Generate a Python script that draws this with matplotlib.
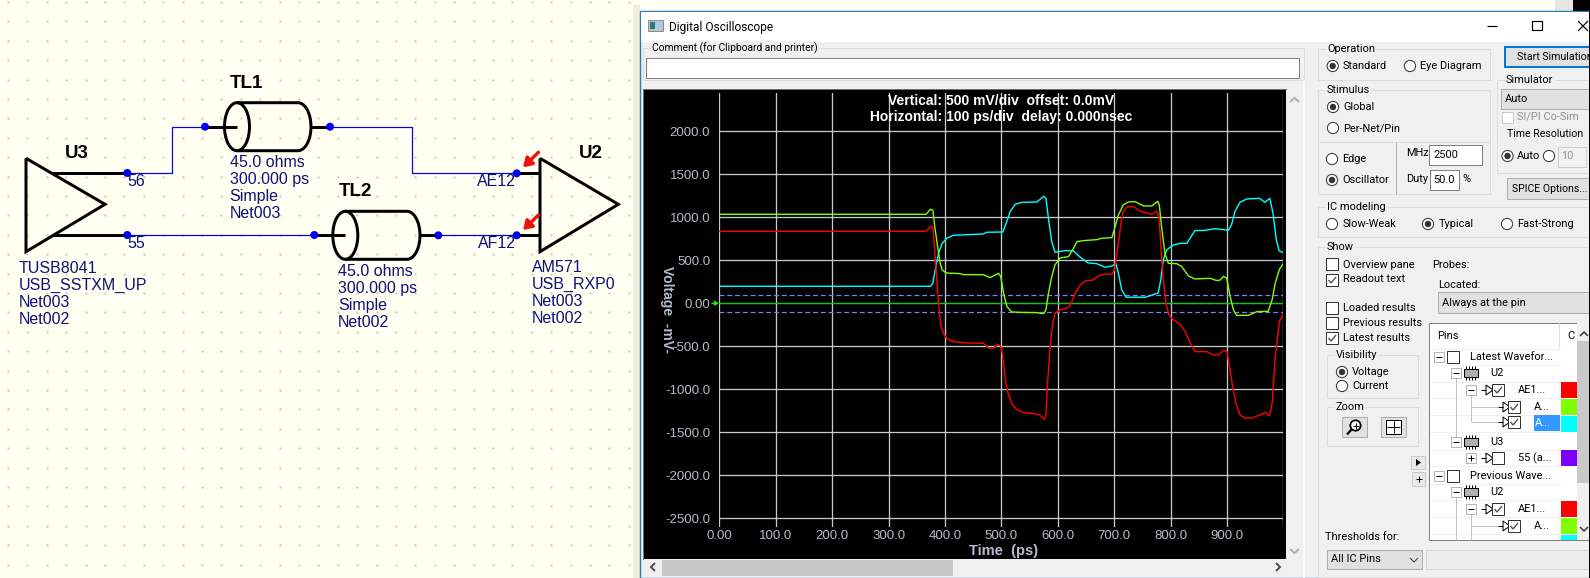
from matplotlib import pyplot as plt
from matplotlib.patches import Rectangle, Ellipse, Circle, Polygon
import numpy as np

W, H = 1590, 578

# scope waveforms, time in ps and voltage in mV
red_t = [0, 366.7, 375, 378.6, 382, 385.6, 389, 392.7, 397.5, 403, 412, 439, 468, 477, 486, 493, 499,
         502.6, 507, 512, 518.5, 527, 539, 563, 570, 576, 579, 582, 586.5, 591, 595, 604, 619, 625, 631,
         640, 648.5, 663, 672, 680, 696, 700.5, 703, 707.5, 712, 716, 722, 734, 746, 767, 775.5, 779,
         782.6, 787, 792, 797, 805, 817, 826, 835, 844, 864, 876, 885, 894, 900, 904.5, 910, 916, 923,
         932, 944, 959, 968, 975.6, 980, 985.6, 993, 1000]
red_v = [837, 837, 899, 884, 620, 271, -39, -252, -349, -407, -442, -461, -465, -519, -523, -481, -496,
         -620, -891, -1047, -1163, -1233, -1271, -1287, -1310, -1349, -1298, -930, -504, -233, -116, -78,
         -50, 19, 116, 213, 260, 271, 318, 337, 341, 388, 504, 698, 930, 1066, 1116, 1128, 1070, 1035,
         1070, 1008, 698, 271, 0, -136, -194, -244, -329, -465, -562, -562, -601, -601, -547, -562, -736,
         -969, -1163, -1298, -1337, -1333, -1298, -1267, -1310, -1163, -620, -213, -120]
lime_t = [0, 366.7, 374, 378.6, 382, 387, 391.6, 395, 402, 427, 433, 468, 480, 495, 499, 504, 510, 518.5,
          533, 563, 575, 579, 583.5, 589.4, 595, 604, 619, 628, 634, 645.5, 669, 678, 696, 701.6, 707.5,
          716, 725, 737, 752, 767, 777, 780, 784, 790, 796, 811, 820, 831.6, 843, 870, 882, 888, 894,
          899.5, 905.7, 911.5, 917, 938, 953, 973, 980, 985.5, 993, 1000]
lime_v = [1035, 1035, 1093, 1081, 891, 659, 465, 388, 353, 345, 333, 333, 298, 349, 310, 116, -39, -101,
          -105, -109, -120, -78, 116, 310, 446, 527, 543, 640, 717, 729, 740, 756, 764, 891, 1027, 1143,
          1178, 1182, 1132, 1132, 1186, 1143, 891, 581, 465, 461, 426, 318, 283, 291, 264, 271, 314, 291,
          78, -78, -140, -140, -97, -93, 39, 233, 395, 465]
cyan_t = [0, 374, 378.6, 382.7, 388.6, 394.5, 403, 415, 468, 474, 502.6, 508.5, 515.6, 524.5, 536, 563,
          575, 579, 583.5, 589.4, 595, 613, 628, 640, 654, 669, 684, 696, 703, 707.5, 713.5, 721, 755,
          778, 782.6, 787, 793, 805, 817, 829, 834.5, 843, 861, 879, 902.5, 908, 914, 923, 935, 958, 967,
          976, 981.6, 987.5, 992.5, 1000]
cyan_v = [198, 198, 233, 388, 581, 690, 756, 791, 806, 826, 829, 930, 1066, 1151, 1174, 1178, 1244, 1221,
          988, 717, 593, 612, 609, 535, 469, 461, 419, 434, 461, 349, 155, 70, 70, 120, 271, 504, 620,
          678, 698, 698, 756, 845, 849, 868, 849, 911, 1066, 1174, 1213, 1221, 1174, 1221, 1047, 736, 609,
          590]
thresholds = [100, -100]
x_ticks = [0, 100, 200, 300, 400, 500, 600, 700, 800, 900, 1000]
x_labels = ["0.00", "100.0", "200.0", "300.0", "400.0", "500.0", "600.0", "700.0", "800.0", "900.0", ""]
y_ticks = [2000, 1500, 1000, 500, 0, -500, -1000, -1500, -2000, -2500]
y_labels = ["2000.0", "1500.0", "1000.0", "500.0", "0.00", "-500.0", "-1000.0", "-1500.0", "-2000.0", "-2500.0"]

NAVY = "#10107a"
UI_FONT = "Roboto"
GROUP = "#dcdcdc"

fig = plt.figure(figsize=(W / 100, H / 100), dpi=100, facecolor="#fffff2")
ui = fig.add_axes([0, 0, 1, 1], zorder=1)
ui.set_xlim(0, W)
ui.set_ylim(H, 0)
ui.axis("off")


def px(n):
    return n * 0.72


def box(x0, y0, x1, y1, fc="none", ec="none", lw=1, z=2):
    ui.add_patch(Rectangle((x0, y0), x1 - x0, y1 - y0, fc=fc, ec=ec, lw=px(lw), zorder=z))


def line(xs, ys, c="black", lw=1, z=3):
    ui.plot(xs, ys, color=c, lw=px(lw), zorder=z, solid_capstyle="butt", solid_joinstyle="miter")


def label(x, y, s, c="black", size=7.95, ha="left", bg=None, weight="normal", family=UI_FONT):
    t = ui.text(x, y, s, color=c, fontsize=size, ha=ha, va="center", family=family, weight=weight, zorder=6)
    if bg:
        t.set_bbox(dict(fc=bg, ec="none", pad=1))
    return t


def radio(x, y, on=False):
    ui.add_patch(Circle((x, y), 5.6, fc="white", ec="#333333", lw=px(1), zorder=4))
    if on:
        ui.add_patch(Circle((x, y), 3.2, fc="#333333", ec="none", zorder=5))


def check(x0, y0, size=12, on=False, ec="#333333", fc="white"):
    box(x0, y0, x0 + size, y0 + size, fc=fc, ec=ec, z=4)
    if on:
        s = size / 12
        line([x0 + 2.5 * s, x0 + 5 * s, x0 + 10 * s], [y0 + 6 * s, y0 + 9 * s, y0 + 3 * s], c="#555555", lw=1.4, z=5)


def group(x0, y0, x1, y1, s=None):
    box(x0, y0, x1, y1, ec=GROUP, z=2)
    if s:
        label(x0 + 9, y0, s, bg="#f0f0f0")


def expander(x, y, plus=False):
    box(x - 5, y - 5, x + 5, y + 5, fc="white", ec="#b4b4b4", z=4)
    line([x - 3, x + 3], [y, y], c="black", z=5)
    if plus:
        line([x, x], [y - 3, y + 3], c="black", z=5)


def chip(x, y):
    box(x - 7, y - 4, x + 7, y + 4, fc="#b0b0b0", ec="black", z=4)
    for dx in (-5, -2, 1, 4):
        line([x + dx, x + dx], [y - 7, y + 7], c="black", lw=1, z=3)


def pin(x, y):
    line([x, x + 5], [y, y], c="black", z=4)
    line([x + 5, x + 5, x + 12, x + 5], [y - 5, y + 5, y, y - 5], c="black", z=4)


def cable(cx, cy, right, stub_l, stub_r):
    # transmission line symbol, left end is an ellipse
    t = np.linspace(0, np.pi / 2, 12)
    rx, ry = 13, 24
    top = cy - ry
    bot = cy + ry
    xs = [cx] + list(right - rx + rx * np.sin(t)) + list(right - rx + rx * np.cos(t)) + [cx]
    ys = [top] + list(cy - ry * np.cos(t)) + list(cy + ry * np.sin(t)) + [bot]
    line(xs, ys, lw=3)
    ui.add_patch(Ellipse((cx, cy), 25, 48, fc="none", ec="black", lw=px(3), zorder=3))
    line([stub_l, cx], [cy, cy], lw=3)
    line([right, stub_r], [cy, cy], lw=3)


# schematic side
for gx in np.arange(8, 640, 19.4):
    for gy in np.arange(2, H, 19.4):
        ui.plot(gx, gy, ".", ms=1.1, color="#c4c4b4", zorder=1)

line([26, 105, 26, 26], [158.3, 204.3, 251.7, 158.3], lw=3)
line([540, 618.3, 540, 540], [158.3, 204.3, 251.7, 158.3], lw=3)
line([52, 127], [173.3, 173.3], lw=3)
line([52, 127], [235, 235], lw=3)
line([516.7, 540], [173.3, 173.3], lw=3)
line([516.7, 540], [235, 235], lw=3)
cable(237, 126.7, 311, 205, 330)
cable(345.3, 235.3, 420, 314.3, 438.3)

line([127, 171.7, 171.7, 205], [173.3, 173.3, 126.7, 126.7], c="#0000e0", lw=1.2)
line([330, 411.7, 411.7, 516.7], [126.7, 126.7, 173.3, 173.3], c="#0000e0", lw=1.2)
line([127, 314.3], [235, 235], c="#0000e0", lw=1.2)
line([438.3, 516.7], [235.3, 235.3], c="#0000e0", lw=1.2)
for dx, dy in [(127.3, 173), (127.3, 235), (205, 126.7), (330, 126.7), (314.3, 235), (438.3, 235.3),
               (516.7, 173.3), (516.7, 235.3)]:
    ui.add_patch(Circle((dx, dy), 4, fc="#0000f0", ec="none", zorder=4))
for y0 in (152.3, 215):
    ui.annotate("", xy=(523, y0 + 15), xytext=(538.5, y0), zorder=5,
                arrowprops=dict(arrowstyle="-|>,head_width=0.32,head_length=0.5", color="#f01010", lw=px(3.4),
                                shrinkA=0, shrinkB=0))

SCH = "Liberation Sans"
for x, y, s in [(230, 83, "TL1"), (65, 153, "U3"), (579, 153, "U2"), (339, 192, "TL2")]:
    label(x, y, s, size=13.5, weight="bold", family=SCH)
for x, y0, rows in [(229.5, 162.7, ["45.0 ohms", "300.000 ps", "Simple", "Net003"]),
                    (19, 268.3, ["TUSB8041", "USB_SSTXM_UP", "Net003", "Net002"]),
                    (338, 271.7, ["45.0 ohms", "300.000 ps", "Simple", "Net002"]),
                    (532, 268, ["AM571", "USB_RXP0", "Net003", "Net002"])]:
    for i, s in enumerate(rows):
        label(x, y0 + i * 16.9, s, c=NAVY, size=11.55, family=SCH)
label(127, 182, "56", c=NAVY, size=11.5, family=SCH)
label(127, 244, "55", c=NAVY, size=11.5, family=SCH)
label(516, 182, "AE12", c=NAVY, size=11.5, ha="right", family=SCH)
label(516, 244, "AF12", c=NAVY, size=11.5, ha="right", family=SCH)

# window
box(1555, 0, 1573, 11, fc="#e6e6e0", z=1.5)
box(1573, 0, W, 11, fc="black", z=1.5)
box(633, 5, 640, H, fc="#eeeedd", z=1.5)
box(640, 11, W, H, fc="#f0f0f0", ec="#2a7ab8", lw=1.4, z=1.6)
box(641, 12, W, 42, fc="white", z=1.7)
box(648, 20, 663, 31, fc="#b8c4c8", ec="#909090", z=2)
box(650, 22, 655, 29, fc="#2c7a70", z=3)
box(655, 22, 660, 29, fc="#a8d0e0", z=3)
label(669, 27, "Digital Oscilloscope", size=8.6)
line([1487, 1497], [26, 26], lw=1.2)
box(1532, 21, 1541.5, 30, ec="black", lw=1.2, z=3)
line([1578, 1588], [21, 31], lw=1.2)
line([1578, 1588], [31, 21], lw=1.2)
box(1589, 11, W, H, fc="black", z=7)

group(643, 48, 1304, 80)
label(652, 48.5, "Comment (for Clipboard and printer)", size=7.4, bg="#f0f0f0")
box(646, 57.5, 1299, 77.5, fc="white", ec="#808080", z=3)

# scope panel
box(643, 89, 1286, 559, fc="black", ec="#707070", z=2)
box(1286, 90, 1304, 559, fc="#f0f0f0", z=2)
line([1304, 1304], [80, H], c="white", lw=1.5)
box(644, 559, 1304, 576, fc="#f0f0f0", z=2)
box(662, 560, 953, 576, fc="#c8c8c8", z=3)
line([1290, 1294.5, 1299], [102, 98, 102], c="#b0b0b0", lw=2)
line([1290, 1294.5, 1299], [549, 553, 549], c="#b0b0b0", lw=2)
line([655, 651, 655], [563, 567, 571], c="#505050", lw=2)
line([1276, 1280, 1276], [563, 567, 571], c="#505050", lw=2)

TICK = "#b4bcc8"
top_px, bot_px = 93, 527
x0_px, x1_px = 719.3, 1283.4
mv_per_px = 500 / 43.0
scope = fig.add_axes([x0_px / W, 1 - bot_px / H, (x1_px - x0_px) / W, (bot_px - top_px) / H], zorder=2,
                     facecolor="black")
scope.set_xlim(0, 1000)
scope.set_ylim(-(bot_px - 303.3) * mv_per_px, (303.3 - top_px) * mv_per_px)
scope.set_xticks(x_ticks, x_labels, family=SCH, fontsize=9.5, color=TICK)
scope.set_yticks(y_ticks, y_labels, family=SCH, fontsize=9.5, color=TICK)
scope.tick_params(length=0, axis="x", pad=2.5)
scope.tick_params(length=0, axis="y", pad=6.5)
scope.grid(True, color="#c8c8c8", lw=px(1.3), zorder=1)
scope.set_axisbelow(True)
for sp in scope.spines.values():
    sp.set_visible(False)
scope.axhline(0, color="#00d000", lw=px(1), zorder=2)
for th in thresholds:
    scope.axhline(th, color="#8080ff", lw=px(1.2), ls=(0, (4, 2.5)), zorder=2)
scope.plot(cyan_t, cyan_v, color="#00ffff", lw=px(1.4), zorder=3)
scope.plot(lime_t, lime_v, color="#80ff00", lw=px(1.4), zorder=4)
scope.plot(red_t, red_v, color="#ff0000", lw=px(1.4), zorder=5)
scope.text(1001, 101, "Vertical: 500 mV/div  offset: 0.0mV", transform=ui.transData, color="white", ha="center",
           va="center", family=SCH, weight="bold", fontsize=10, zorder=8)
scope.text(1001, 117, "Horizontal: 100 ps/div  delay: 0.000nsec", transform=ui.transData, color="white",
           ha="center", va="center", family=SCH, weight="bold", fontsize=10, zorder=8)

label(667, 309, "Voltage  -mV-", c=TICK, size=10, ha="center", weight="bold", family=SCH).set_rotation(-90)
label(1004, 551.5, "Time  (ps)", c=TICK, size=10.5, ha="center", weight="bold", family=SCH)
line([711, 717], [303.3, 303.3], c="#00ff00", lw=1.3, z=6)
ui.add_patch(Polygon([[714, 300.5], [719, 303.3], [714, 306]], fc="#00ff00", ec="none", zorder=6))

# controls on the right
group(1318, 49, 1490, 80, "Operation")
radio(1332.7, 66, True)
label(1343, 66, "Standard")
radio(1410, 66)
label(1420, 66, "Eye Diagram")

group(1318, 90, 1490, 193.5, "Stimulus")
radio(1333, 107, True)
label(1343, 107, "Global")
radio(1333, 128)
label(1343, 128, "Per-Net/Pin")
line([1318, 1490], [141.5, 141.5], c=GROUP)
line([1395.5, 1395.5], [141.5, 193.5], c="#b0b0b0")
radio(1332, 159)
label(1342, 159, "Edge")
radio(1332, 180, True)
label(1342, 180, "Oscillator")
label(1406, 153, "MHz")
box(1429, 144.7, 1482, 164.7, fc="white", ec="#808080", z=3)
label(1433, 154.5, "2500")
label(1406, 179, "Duty")
box(1429.7, 170, 1458.7, 190, fc="white", ec="#808080", z=3)
label(1455, 180, "50.0", ha="right")
label(1462, 179, "%")

box(1504.5, 47, W, 67, fc="#e1e1e1", ec="#0078d7", lw=2, z=3)
label(1517, 57, "Start Simulation", size=7.7)

group(1497, 80, W, 173, "Simulator")
box(1501, 89, W, 109, fc="#e1e1e1", ec="#adadad", z=3)
label(1505, 99, "Auto")
box(1502, 112, 1513, 123, fc="white", ec="#cccccc", z=3)
label(1517, 117, "SI/PI Co-Sim", c="#909090")
label(1507, 134, "Time Resolution", size=7.7, bg="#f0f0f0")
radio(1507.5, 156, True)
label(1517, 156, "Auto")
radio(1549, 156)
box(1558, 147, 1586, 167, fc="#f0f0f0", ec="#cccccc", z=3)
label(1561, 156, "10", c="#909090")
box(1507, 178, W, 199, fc="#e1e1e1", ec="#adadad", z=3)
label(1512, 189, "SPICE Options...", size=7.6)

group(1318, 207, W, 237, "IC modeling")
radio(1332, 224)
label(1343, 224, "Slow-Weak")
radio(1428, 224, True)
label(1439, 224, "Typical")
radio(1507, 224)
label(1517, 224, "Fast-Strong")

group(1318, 247, W, 577, "Show")
check(1326, 258)
label(1343, 265, "Overview pane")
check(1326, 274, on=True)
label(1343, 279, "Readout text")
label(1432, 265, "Probes:")
label(1438, 285, "Located:")
box(1438, 292, W, 313, fc="#e1e1e1", ec="#adadad", z=3)
label(1442, 303, "Always at the pin")
check(1326, 302)
label(1343, 308, "Loaded results")
check(1326, 317)
label(1343, 323, "Previous results")
check(1326, 332, on=True)
label(1343, 338, "Latest results")

group(1327, 354.5, 1418, 398, "Visibility")
radio(1342, 372, True)
label(1352, 372, "Voltage")
radio(1342, 386)
label(1352, 386, "Current")
group(1327, 406.5, 1418, 445.5, "Zoom")
box(1342, 417, 1367, 437, fc="#e1e1e1", ec="#adadad", z=3)
ui.add_patch(Circle((1355.5, 425.5), 5.2, fc="white", ec="black", lw=px(1.8), zorder=4))
line([1351.5, 1347], [429.5, 434.5], lw=2.2, z=4)
line([1352.5, 1358.5], [425.5, 425.5], z=5)
line([1355.5, 1355.5], [422.5, 428.5], z=5)
box(1381, 417, 1406, 437, fc="#e1e1e1", ec="#adadad", z=3)
box(1386, 420, 1401, 434, fc="white", ec="black", z=4)
line([1393.5, 1393.5], [421, 433], z=5)
line([1387, 1400], [427, 427], z=5)
box(1411, 456, 1425, 469, fc="#e8e8e8", ec="#cccccc", z=3)
ui.add_patch(Polygon([[1416, 459], [1421, 462.5], [1416, 466]], fc="black", zorder=4))
box(1412, 472, 1425, 486, fc="#e8e8e8", ec="#cccccc", z=3)
line([1415.5, 1421.5], [479, 479], z=4)
line([1418.5, 1418.5], [476, 482], z=4)

# pin tree
box(1429, 322.7, W, 540, fc="white", ec="#808080", z=3)
label(1437, 336, "Pins")
line([1559, 1559], [323, 347], c="#dddddd", z=4)
label(1567, 336, "C")
box(1577, 323, W, 540, fc="#f0f0f0", z=4)
box(1577, 341, W, 483, fc="#c8c8c8", z=4)
line([1580, 1584, 1588], [336, 332, 336], c="#404040", lw=1.6, z=5)
line([1580, 1584, 1588], [527, 531, 527], c="#404040", lw=1.6, z=5)
for ry in (349, 365, 382, 398, 415, 432, 450, 466, 484, 500, 517, 534):
    line([1430, 1561], [ry, ry], c="#f0f0f0", z=3.5)
line([1455.5, 1455.5], [378, 442], c="#c4c4c4", z=3.5)
line([1455.5, 1455.5], [497, 540], c="#c4c4c4", z=3.5)
line([1471, 1471], [395, 422], c="#c4c4c4", z=3.5)
line([1471, 1498], [407, 407], c="#c4c4c4", z=3.5)
line([1471, 1498], [422, 422], c="#c4c4c4", z=3.5)
line([1471, 1498], [526, 526], c="#c4c4c4", z=3.5)
line([1471, 1471], [514, 540], c="#c4c4c4", z=3.5)
for y0, s in [(357, "Latest Wavefor..."), (476, "Previous Wave...")]:
    expander(1439, y0)
    check(1447, y0 - 6.5, size=12)
    label(1470, y0, s)
for y0, s in [(373, "U2"), (441.7, "U3"), (492, "U2")]:
    expander(1455.5, y0)
    chip(1471, y0)
    label(1490, y0, s)
expander(1471, 390)
pin(1481, 390)
check(1492, 384, on=True)
label(1518, 390, "AE1...")
expander(1471, 458, plus=True)
pin(1481, 458)
check(1492, 452)
label(1518, 458, "55 (a...")
expander(1471, 509)
pin(1481, 509)
check(1492, 503, on=True)
label(1518, 509, "AE1...")
for y0 in (407, 422, 526):
    pin(1498, y0)
    check(1508, y0 - 6, on=True)
label(1534, 407, "A...")
box(1534, 415, 1560, 431, fc="#3399ff", z=3.6)
label(1535, 423, "A...", c="white")
label(1534, 526, "A...")
for y0, y1, c in [(382, 398, "#ff0000"), (399, 415, "#80ff00"), (416, 432, "#00ffff"), (450, 466, "#8000ff"),
                  (501, 517, "#ff0000"), (518, 534, "#80ff00"), (535, 540, "#00ffff")]:
    box(1561, y0, 1577, y1, fc=c, z=5)

label(1325, 537, "Thresholds for:")
box(1327, 549.5, 1422, 569, fc="#e1e1e1", ec="#adadad", z=3)
label(1331, 559.5, "All IC Pins")
line([1410, 1414, 1418], [558, 562, 558], c="#404040", z=4)
box(1426, 549.5, W, 569, fc="#ececec", ec="#d8d8d8", z=3)

fig.savefig("out.png", dpi=100, facecolor=fig.get_facecolor())
